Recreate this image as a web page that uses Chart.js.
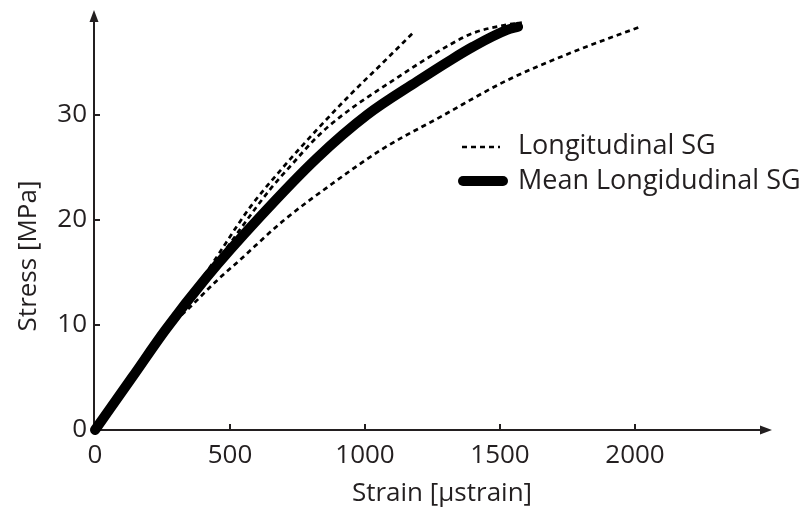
<!DOCTYPE html>
<html lang="en">
<head>
  <meta charset="UTF-8">
  <title>Stress vs Strain</title>
  <script src="https://cdn.jsdelivr.net/npm/chart.js"></script>
  <style>
    body { margin: 0; background: #fff; }
  </style>
</head>
<body>
  <canvas id="stressChart" width="803" height="513"></canvas>

  <script>
    // tick labels on the axes
    const xTicks = [0, 500, 1000, 1500, 2000];
    const yTicks = [0, 10, 20, 30];

    // strain gauge 1 (steepest)
    const sg1Strain = [0, 140, 280, 420, 574, 696, 822, 944, 1067, 1185];
    const sg1Stress = [0, 5.2, 10.3, 15.3, 21.2, 25.0, 28.6, 31.9, 35.0, 38.0];

    // strain gauge 2
    const sg2Strain = [0, 150, 300, 450, 648, 733, 822, 907, 1104, 1315, 1400, 1526, 1581];
    const sg2Stress = [0, 5.5, 10.8, 16.0, 22.9, 25.4, 27.9, 29.8, 33.3, 36.7, 37.8, 38.6, 38.8];

    // strain gauge 3 (softest)
    const sg3Strain = [0, 140, 300, 352, 450, 537, 696, 881, 1067, 1278, 1526, 1770, 2019];
    const sg3Stress = [0, 5.1, 10.4, 11.7, 14.2, 16.2, 19.9, 23.5, 26.8, 29.8, 33.3, 36.0, 38.4];

    // mean of the gauges
    const meanStrain = [0, 140, 260, 415, 611, 822, 1007, 1193, 1315, 1400, 1526, 1567];
    const meanStress = [0, 5.1, 9.5, 14.6, 20.3, 25.9, 30.0, 33.2, 35.2, 36.5, 38.1, 38.4];

    const ink = '#231f20';
    const fontName = "'Open Sans', sans-serif";

    function toPoints(xs, ys) {
      return xs.map((x, i) => ({ x: x, y: ys[i] }));
    }

    function dashedSet(xs, ys) {
      return {
        data: toPoints(xs, ys),
        borderColor: '#000',
        borderWidth: 2.7,
        borderDash: [5, 4],
        pointRadius: 0,
        cubicInterpolationMode: 'monotone',
        clip: false,
        order: 1
      };
    }

    // axes with arrows and small inward ticks
    const axesPlugin = {
      id: 'axes',
      beforeDatasetsDraw(chart) {
        const ctx = chart.ctx;
        const xs = chart.scales.x;
        const ys = chart.scales.y;
        const x0 = xs.getPixelForValue(0) - 1;
        const y0 = ys.getPixelForValue(0);
        const xEnd = xs.getPixelForValue(2500) + 2;
        const yEnd = ys.getPixelForValue(40);
        ctx.save();
        ctx.strokeStyle = ink;
        ctx.fillStyle = ink;
        ctx.lineWidth = 2;
        ctx.beginPath();
        ctx.moveTo(x0, y0 + 1);
        ctx.lineTo(x0, yEnd + 6);
        ctx.moveTo(x0 - 1, y0);
        ctx.lineTo(xEnd - 6, y0);
        ctx.stroke();
        // arrow heads
        ctx.beginPath();
        ctx.moveTo(x0, yEnd);
        ctx.lineTo(x0 - 4.5, yEnd + 12);
        ctx.lineTo(x0 + 4.5, yEnd + 12);
        ctx.closePath();
        ctx.fill();
        ctx.beginPath();
        ctx.moveTo(xEnd, y0);
        ctx.lineTo(xEnd - 12, y0 - 4.5);
        ctx.lineTo(xEnd - 12, y0 + 4.5);
        ctx.closePath();
        ctx.fill();
        // ticks
        ctx.lineWidth = 2;
        ctx.beginPath();
        xTicks.slice(1).forEach(v => {
          const px = xs.getPixelForValue(v);
          ctx.moveTo(px, y0);
          ctx.lineTo(px, y0 - 6);
        });
        yTicks.slice(1).forEach(v => {
          const py = ys.getPixelForValue(v);
          ctx.moveTo(x0, py);
          ctx.lineTo(x0 + 6, py);
        });
        ctx.stroke();
        ctx.restore();
      },
      afterDraw(chart) {
        const ctx = chart.ctx;
        ctx.save();
        ctx.fillStyle = ink;
        ctx.font = '26px ' + fontName;
        ctx.textBaseline = 'middle';
        // axis titles
        ctx.textAlign = 'center';
        ctx.fillText('Strain [µstrain]', 442, 494);
        ctx.translate(29, 256);
        ctx.rotate(-Math.PI / 2);
        ctx.fillText('Stress [MPa]', 0, 0);
        ctx.setTransform(1, 0, 0, 1, 0, 0);
        // legend
        ctx.textAlign = 'left';
        ctx.strokeStyle = '#000';
        ctx.lineWidth = 2.5;
        ctx.setLineDash([5, 4]);
        ctx.beginPath();
        ctx.moveTo(462, 147);
        ctx.lineTo(500, 147);
        ctx.stroke();
        ctx.setLineDash([]);
        ctx.lineWidth = 10;
        ctx.lineCap = 'round';
        ctx.beginPath();
        ctx.moveTo(463, 181);
        ctx.lineTo(503, 181);
        ctx.stroke();
        ctx.font = '27px ' + fontName;
        ctx.fillText('Longitudinal SG', 518, 146);
        ctx.fillText('Mean Longidudinal SG', 518, 181);
        ctx.restore();
      }
    };

    const ctx = document.getElementById('stressChart').getContext('2d');
    const stressChart = new Chart(ctx, {
      type: 'line',
      data: {
        datasets: [
          dashedSet(sg1Strain, sg1Stress),
          dashedSet(sg2Strain, sg2Stress),
          dashedSet(sg3Strain, sg3Stress),
          {
            data: toPoints(meanStrain, meanStress),
            borderColor: '#000',
            borderWidth: 10,
            borderCapStyle: 'round',
            borderJoinStyle: 'round',
            pointRadius: 0,
            cubicInterpolationMode: 'monotone',
            clip: false,
            order: 2
          }
        ]
      },
      options: {
        responsive: false,
        animation: false,
        layout: { autoPadding: false, padding: { top: 10, right: 33, left: 0, bottom: 0 } },
        plugins: {
          legend: { display: false },
          tooltip: { enabled: false }
        },
        scales: {
          x: {
            type: 'linear',
            min: 0,
            max: 2500,
            afterFit: s => { s.height = 83; s.paddingLeft = 0; s.paddingRight = 0; },
            grid: { display: false, drawTicks: false },
            border: { display: false },
            ticks: {
              stepSize: 500,
              padding: 10,
              color: ink,
              font: { family: fontName, size: 26 },
              maxRotation: 0,
              callback: v => xTicks.includes(v) ? v : null
            }
          },
          y: {
            type: 'linear',
            min: 0,
            max: 40,
            afterFit: s => { s.width = 95; s.paddingTop = 0; s.paddingBottom = 0; },
            grid: { display: false, drawTicks: false },
            border: { display: false },
            ticks: {
              stepSize: 10,
              padding: 8,
              color: ink,
              font: { family: fontName, size: 26 },
              callback: v => yTicks.includes(v) ? v : null
            }
          }
        }
      },
      plugins: [axesPlugin]
    });
  </script>
</body>
</html>
